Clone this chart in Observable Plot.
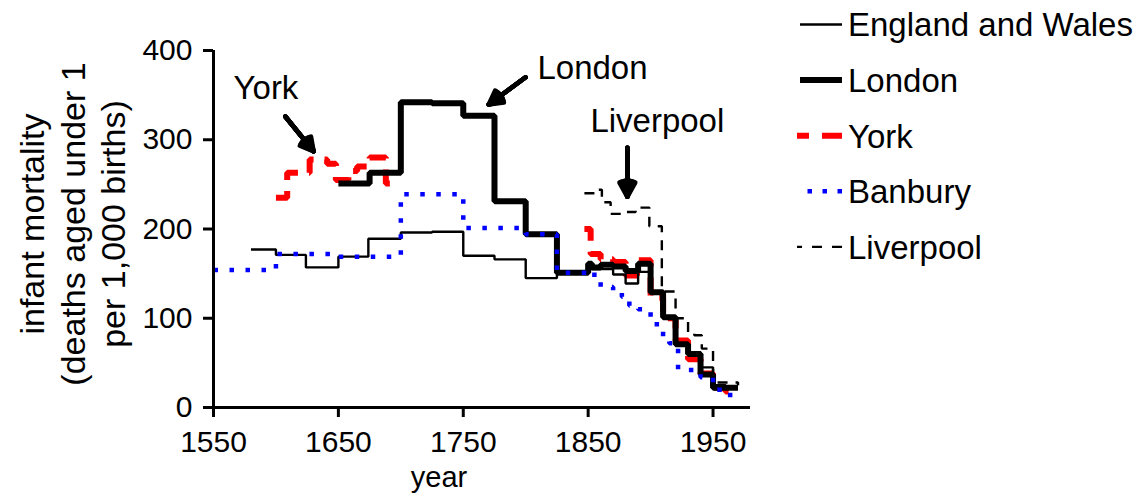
<!DOCTYPE html>
<html>
<head>
<meta charset="utf-8">
<script src="https://cdn.jsdelivr.net/npm/d3@7"></script>
<script src="https://cdn.jsdelivr.net/npm/@observablehq/plot@0.6"></script>
<style>
  html, body { margin: 0; padding: 0; background: #fff; }
  #wrap { position: relative; width: 1143px; height: 504px; font-family: "Liberation Sans", Arial, sans-serif; color: #000; }
  #wrap svg { font-family: "Liberation Sans", Arial, sans-serif; }
  #legend { position: absolute; left: 0; top: 0; pointer-events: none; }
</style>
</head>
<body>
<div id="wrap"></div>
<script>
// ---------------- data ----------------
const xTicks = [1550, 1650, 1750, 1850, 1950];
const yTicks = [0, 100, 200, 300, 400];

// step series: [year where the level starts, infant mortality]
const englandWales = [
  [1580,177],[1600,171],[1624,157],[1650,169],[1674,189],[1700,196],[1725,197],
  [1750,170],[1775,166],[1800,145],[1825,150],[1850,155],[1870,149],[1880,139],
  [1890,152],[1900,128],[1910,100],[1920,72],[1930,62],[1940,45],[1950,25],[1960,21],[1970,21]
];
const london = [
  [1650,251],[1675,263],[1700,342],[1725,341],[1750,327],[1775,231],[1800,194],
  [1825,151],[1850,161],[1853,157],[1860,160],[1870,158],[1880,153],[1890,161],
  [1900,129],[1910,101],[1920,71],[1930,60],[1940,37],[1950,22],[1970,22]
];
const yorkEarly = [
  [1600,235],[1609,263],[1627,278],[1641,273],[1648,255],[1658,265],[1665,270],
  [1675,280],[1688,251],[1700,251]
];
const yorkLate = [
  [1847,200],[1852,172],[1860,166],[1870,163],[1880,148],[1889,165],[1900,123],
  [1910,100],[1920,75],[1930,54],[1940,38],[1950,22],[1960,18],[1970,18]
];
const banbury = [
  [1550,154],[1600,172],[1650,169],[1700,239],[1750,201],[1800,194],[1825,151],
  [1850,153],[1855,145],[1860,135],[1870,130],[1877,124],[1883,114],[1890,110],
  [1900,100],[1905,90],[1910,78],[1915,72],[1922,42],[1940,34],[1950,20],[1960,14],[1970,14]
];
const liverpool = [
  [1847,240],[1857,244],[1861,230],[1868,217],[1878,219],[1888,224],[1899,203],
  [1909,130],[1920,100],[1930,84],[1935,81],[1941,66],[1950,28],[1970,25]
];

const legendNames = ["England and Wales", "London", "York", "Banbury", "Liverpool"];

// annotations: label text, label position, arrow start, arrow tip
const noteText = ["York", "London", "Liverpool"];
const notePos = [[1592, 358], [1853.5, 380], [1905.4, 321]];
const arrowFrom = [[1607.5, 326], [1799.9, 370], [1881.4, 291]];
const arrowTo = [[1630.2, 287], [1770.4, 339.5], [1881.4, 236]];

// ---------------- build tables ----------------
const rows = (arr, series, seg) => arr.map(([year, value]) => ({series, seg: seg || series, year, value}));
const ewRows = rows(englandWales, "England and Wales");
const lonRows = rows(london, "London");
const yorkRows = [...rows(yorkEarly, "York", "York1"), ...rows(yorkLate, "York", "York2")];
const banRows = rows(banbury, "Banbury");
const livRows = rows(liverpool, "Liverpool");

const notes = noteText.map((t, i) => ({text: t, x: notePos[i][0], y: notePos[i][1]}));
const arrows = arrowFrom.map((f, i) => ({x1: f[0], y1: f[1], x2: arrowTo[i][0], y2: arrowTo[i][1]}));

const W = 1143, H = 504;
const lineOpts = {x: "year", y: "value", z: "seg", curve: "step-after", strokeLinejoin: "miter", strokeLinecap: "butt"};

const headAngles = [0, 12, 24, 36, 48, 58];

const chart = Plot.plot({
  width: W,
  height: H,
  marginLeft: 213,
  marginRight: W - 750,
  marginTop: 50,
  marginBottom: 97,
  style: {fontFamily: "Liberation Sans, Arial, sans-serif", color: "#000", background: "#fff", overflow: "visible"},
  x: {domain: [1550, 1980]},
  y: {domain: [0, 400]},
  marks: [
    Plot.line(yorkRows, {...lineOpts, stroke: "#ff0000", strokeWidth: 6, strokeDasharray: "18,11"}),
    Plot.line(lonRows, {...lineOpts, stroke: "#000", strokeWidth: 6}),
    Plot.line(ewRows, {...lineOpts, stroke: "#000", strokeWidth: 2.4}),
    Plot.line(livRows, {...lineOpts, stroke: "#000", strokeWidth: 2.4, strokeDasharray: "10,8"}),
    Plot.line(banRows, {...lineOpts, stroke: "#0000ff", strokeWidth: 4.5, strokeDasharray: "4.5,11.5"}),
    // axes
    Plot.ruleX([1550], {y1: 0, y2: 400, stroke: "#000", strokeWidth: 3}),
    Plot.ruleY([0], {x1: 1550, x2: 1980, stroke: "#000", strokeWidth: 3}),
    Plot.axisX({ticks: xTicks, tickFormat: d => String(d), tickSize: 10, tickPadding: 13, fontSize: 30, strokeWidth: 3, label: null}),
    Plot.axisY({ticks: yTicks, tickFormat: d => String(d), tickSize: 10, tickPadding: 11, fontSize: 30, strokeWidth: 3, label: null}),
    Plot.text(["year"], {frameAnchor: "bottom", lineAnchor: "middle", dx: -43, dy: 70, fontSize: 29}),
    Plot.text(["infant mortality\n(deaths aged under 1\nper 1,000 births)"], {
      frameAnchor: "left", rotate: -90, dx: -142, dy: -5, fontSize: 34, lineHeight: 1.2, textAnchor: "middle", lineAnchor: "middle"
    }),
    // annotations
    Plot.text(notes, {x: "x", y: "y", text: "text", fontSize: 33}),
    ...headAngles.map(a => Plot.arrow(arrows, {x1: "x1", y1: "y1", x2: "x2", y2: "y2", stroke: "#000", strokeWidth: 4.5, headLength: 22, headAngle: a}))
  ]
});

const wrap = document.getElementById("wrap");
wrap.appendChild(chart);

// ---------------- legend (right side) ----------------
const legendStyles = [
  {stroke: "#000", width: 2.4, dash: null},
  {stroke: "#000", width: 6, dash: null},
  {stroke: "#ff0000", width: 6, dash: "20,13"},
  {stroke: "#0000ff", width: 4.5, dash: "4.5,10.5"},
  {stroke: "#000", width: 2.4, dash: "10,10"}
];
const lsvg = d3.select(wrap).append("svg")
  .attr("id", "legend").attr("width", W).attr("height", H);
const rowY = i => 24.5 + i * 55.6;
const g = lsvg.selectAll("g").data(legendNames).join("g")
  .attr("transform", (d, i) => `translate(0,${rowY(i)})`);
g.append("line")
  .attr("x1", (d, i) => legendStyles[i].dash ? 842 : 800)
  .attr("x2", (d, i) => legendStyles[i].dash ? 797 : 842)
  .attr("y1", 0).attr("y2", 0)
  .attr("stroke", (d, i) => legendStyles[i].stroke)
  .attr("stroke-width", (d, i) => legendStyles[i].width)
  .attr("stroke-dasharray", (d, i) => legendStyles[i].dash);
g.append("text")
  .attr("x", 848).attr("y", 0).attr("dy", "0.36em")
  .attr("font-size", 33)
  .attr("font-family", "Liberation Sans, Arial, sans-serif")
  .attr("fill", "#000")
  .text(d => d);
</script>
</body>
</html>
